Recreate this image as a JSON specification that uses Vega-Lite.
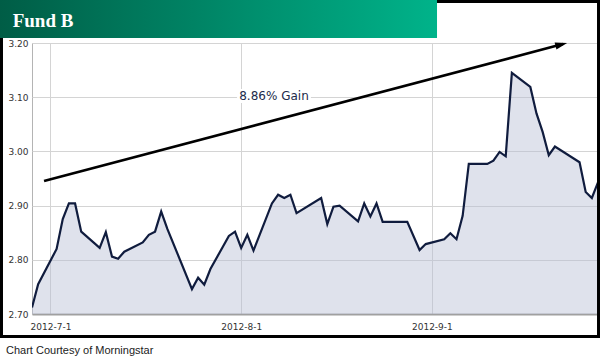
{
  "$schema": "https://vega.github.io/schema/vega-lite/v6.json",
  "width": 566,
  "height": 271,
  "autosize": "none",
  "padding": {"left": 32, "top": 43, "right": 2, "bottom": 44},
  "background": "white",
  "config": {"view": {"stroke": "#b4b4b4", "strokeWidth": 1}, "font": "DejaVu Sans"},
  "data": {"values": [
    {"date": "2012-06-28", "nav": 2.712},
    {"date": "2012-06-29", "nav": 2.755},
    {"date": "2012-07-02", "nav": 2.820},
    {"date": "2012-07-03", "nav": 2.875},
    {"date": "2012-07-04", "nav": 2.904},
    {"date": "2012-07-05", "nav": 2.904},
    {"date": "2012-07-06", "nav": 2.852},
    {"date": "2012-07-09", "nav": 2.822},
    {"date": "2012-07-10", "nav": 2.851},
    {"date": "2012-07-11", "nav": 2.806},
    {"date": "2012-07-12", "nav": 2.802},
    {"date": "2012-07-13", "nav": 2.815},
    {"date": "2012-07-16", "nav": 2.832},
    {"date": "2012-07-17", "nav": 2.846},
    {"date": "2012-07-18", "nav": 2.852},
    {"date": "2012-07-19", "nav": 2.889},
    {"date": "2012-07-20", "nav": 2.857},
    {"date": "2012-07-24", "nav": 2.746},
    {"date": "2012-07-25", "nav": 2.767},
    {"date": "2012-07-26", "nav": 2.754},
    {"date": "2012-07-27", "nav": 2.783},
    {"date": "2012-07-30", "nav": 2.844},
    {"date": "2012-07-31", "nav": 2.852},
    {"date": "2012-08-01", "nav": 2.822},
    {"date": "2012-08-02", "nav": 2.846},
    {"date": "2012-08-03", "nav": 2.817},
    {"date": "2012-08-06", "nav": 2.904},
    {"date": "2012-08-07", "nav": 2.920},
    {"date": "2012-08-08", "nav": 2.914},
    {"date": "2012-08-09", "nav": 2.920},
    {"date": "2012-08-10", "nav": 2.886},
    {"date": "2012-08-14", "nav": 2.914},
    {"date": "2012-08-15", "nav": 2.866},
    {"date": "2012-08-16", "nav": 2.898},
    {"date": "2012-08-17", "nav": 2.900},
    {"date": "2012-08-20", "nav": 2.871},
    {"date": "2012-08-21", "nav": 2.904},
    {"date": "2012-08-22", "nav": 2.880},
    {"date": "2012-08-23", "nav": 2.904},
    {"date": "2012-08-24", "nav": 2.870},
    {"date": "2012-08-28", "nav": 2.870},
    {"date": "2012-08-30", "nav": 2.818},
    {"date": "2012-08-31", "nav": 2.829},
    {"date": "2012-09-03", "nav": 2.838},
    {"date": "2012-09-04", "nav": 2.849},
    {"date": "2012-09-05", "nav": 2.838},
    {"date": "2012-09-06", "nav": 2.881},
    {"date": "2012-09-07", "nav": 2.977},
    {"date": "2012-09-10", "nav": 2.977},
    {"date": "2012-09-11", "nav": 2.983},
    {"date": "2012-09-12", "nav": 2.999},
    {"date": "2012-09-13", "nav": 2.991},
    {"date": "2012-09-14", "nav": 3.145},
    {"date": "2012-09-17", "nav": 3.119},
    {"date": "2012-09-18", "nav": 3.070},
    {"date": "2012-09-19", "nav": 3.036},
    {"date": "2012-09-20", "nav": 2.993},
    {"date": "2012-09-21", "nav": 3.009},
    {"date": "2012-09-25", "nav": 2.980},
    {"date": "2012-09-26", "nav": 2.925},
    {"date": "2012-09-27", "nav": 2.914},
    {"date": "2012-09-28", "nav": 2.943}
  ]},
  "layer": [
    {
      "mark": {"type": "area", "color": "#b8bfd4", "opacity": 0.45, "clip": true},
      "encoding": {
        "x": {
          "field": "date", "type": "temporal", "title": null,
          "scale": {"type": "utc", "domain": [{"year": 2012, "month": 6, "date": 28, "utc": true}, {"year": 2012, "month": 9, "date": 28, "utc": true}]},
          "axis": {
            "title": null,
            "values": [{"year": 2012, "month": 7, "date": 1, "utc": true}, {"year": 2012, "month": 8, "date": 1, "utc": true}, {"year": 2012, "month": 9, "date": 1, "utc": true}],
            "labelExpr": "utcFormat(datum.value, '%Y-%-m-%-d')",
            "labelFont": "DejaVu Sans", "labelFontSize": 9, "labelColor": "#333333",
            "labelPadding": 8, "labelFlush": false, "labelOverlap": false,
            "ticks": false, "domainColor": "#a0a0a0", "domainWidth": 2,
            "grid": true, "gridColor": "#d4d4d4", "gridWidth": 1
          }
        },
        "y": {
          "field": "nav", "type": "quantitative", "title": null,
          "scale": {"domain": [2.7, 3.2], "zero": false, "nice": false},
          "axis": {
            "title": null,
            "values": [2.7, 2.8, 2.9, 3.0, 3.1, 3.2],
            "format": ".2f",
            "labelFont": "DejaVu Sans", "labelFontSize": 9, "labelColor": "#333333",
            "labelPadding": 4, "labelFlush": false,
            "ticks": false, "domain": false,
            "grid": true, "gridColor": "#d4d4d4", "gridWidth": 1
          }
        },
        "y2": {"datum": 2.7}
      }
    },
    {
      "mark": {"type": "line", "color": "#101c3e", "strokeWidth": 2.2, "clip": true},
      "encoding": {
        "x": {"field": "date", "type": "temporal", "title": null},
        "y": {"field": "nav", "type": "quantitative", "title": null}
      }
    },
    {
      "data": {"values": [{}]},
      "mark": {"type": "rect", "fillOpacity": 0, "stroke": "black", "strokeWidth": 3},
      "encoding": {
        "x": {"datum": {"year": 2012, "month": 6, "date": 23, "hours": 1, "utc": true}, "type": "temporal", "title": null},
        "x2": {"datum": {"year": 2012, "month": 9, "date": 28, "hours": 2, "utc": true}},
        "y": {"datum": 3.2766, "type": "quantitative", "title": null},
        "y2": {"datum": 2.6585}
      }
    },
    {
      "data": {"values": [{}]},
      "mark": {"type": "rect", "color": {"gradient": "linear", "x1": 0, "y1": 0, "x2": 1, "y2": 0, "stops": [{"offset": 0, "color": "#005d46"}, {"offset": 1, "color": "#00b38a"}]}},
      "encoding": {
        "x": {"datum": {"year": 2012, "month": 6, "date": 22, "hours": 19, "minutes": 10, "utc": true}, "type": "temporal", "title": null},
        "x2": {"datum": {"year": 2012, "month": 9, "date": 1, "hours": 20, "utc": true}},
        "y": {"datum": 3.2793, "type": "quantitative", "title": null},
        "y2": {"datum": 3.2092}
      }
    },
    {
      "data": {"values": [{"label": "Fund B"}]},
      "mark": {"type": "text", "font": "Liberation Serif", "fontWeight": "bold", "fontSize": 19, "color": "white", "align": "left", "baseline": "alphabetic"},
      "encoding": {
        "x": {"datum": {"year": 2012, "month": 6, "date": 24, "hours": 20, "minutes": 40, "utc": true}, "type": "temporal", "title": null},
        "y": {"datum": 3.2295, "type": "quantitative", "title": null},
        "text": {"field": "label"}
      }
    },
    {
      "data": {"values": [{"label": "Chart Courtesy of Morningstar"}]},
      "mark": {"type": "text", "font": "Liberation Sans", "fontSize": 11, "color": "#222222", "align": "left", "baseline": "alphabetic"},
      "encoding": {
        "x": {"datum": {"year": 2012, "month": 6, "date": 23, "hours": 18, "minutes": 35, "utc": true}, "type": "temporal", "title": null},
        "y": {"datum": 2.6262, "type": "quantitative", "title": null},
        "text": {"field": "label"}
      }
    },
    {
      "data": {"values": [{}]},
      "mark": {"type": "rect", "color": "white"},
      "encoding": {
        "x": {"datum": {"year": 2012, "month": 7, "date": 31, "hours": 8, "utc": true}, "type": "temporal", "title": null},
        "x2": {"datum": {"year": 2012, "month": 8, "date": 12, "hours": 8, "utc": true}},
        "y": {"datum": 3.1151, "type": "quantitative", "title": null},
        "y2": {"datum": 3.0893}
      }
    },
    {
      "data": {"values": [{"label": "8.86% Gain"}]},
      "mark": {"type": "text", "font": "DejaVu Sans", "fontSize": 12, "color": "#1c2b4b", "align": "center", "baseline": "middle"},
      "encoding": {
        "x": {"datum": {"year": 2012, "month": 8, "date": 6, "hours": 8, "utc": true}, "type": "temporal", "title": null},
        "y": {"datum": 3.1022, "type": "quantitative", "title": null},
        "text": {"field": "label"}
      }
    },
    {
      "data": {"values": [{}]},
      "mark": {"type": "rule", "color": "black", "strokeWidth": 2.6},
      "encoding": {
        "x": {"datum": {"year": 2012, "month": 6, "date": 29, "hours": 23, "utc": true}, "type": "temporal", "title": null},
        "x2": {"datum": {"year": 2012, "month": 9, "date": 22, "hours": 7, "utc": true}},
        "y": {"datum": 2.9454, "type": "quantitative", "title": null},
        "y2": {"datum": 3.198}
      }
    },
    {
      "data": {"values": [{}]},
      "mark": {"type": "point", "shape": "M -1 -0.6 L 1 0 L -1 0.6 Z", "filled": true, "color": "black", "opacity": 1, "size": 144, "angle": 345.2},
      "encoding": {
        "x": {"datum": {"year": 2012, "month": 9, "date": 22, "hours": 1, "utc": true}, "type": "temporal", "title": null},
        "y": {"datum": 3.1972, "type": "quantitative", "title": null}
      }
    }
  ]
}
